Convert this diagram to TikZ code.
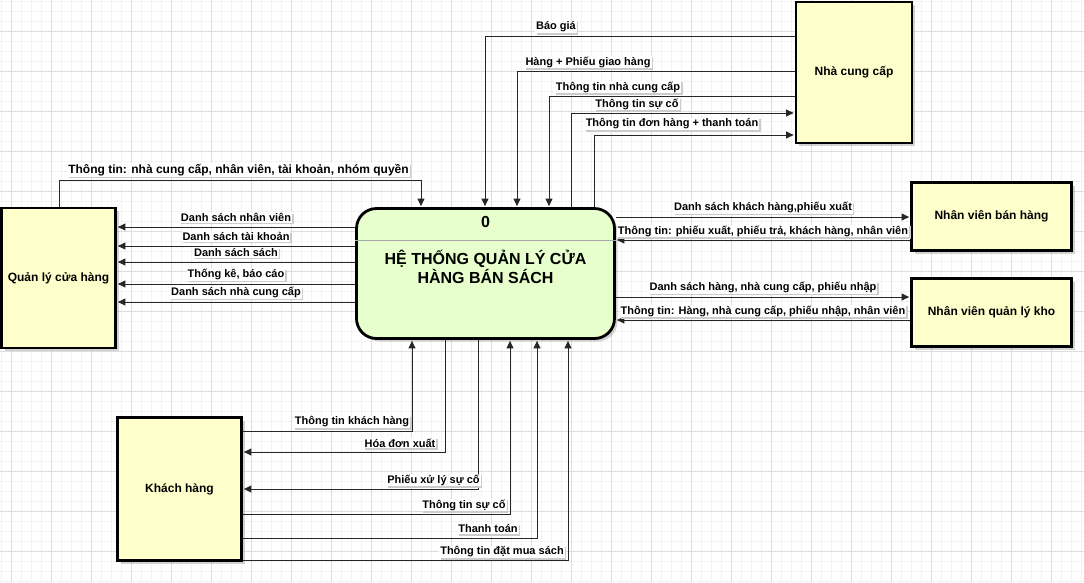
\documentclass[tikz,border=0pt]{standalone}
\usepackage{fontspec}
\setmainfont{Liberation Sans}
\usetikzlibrary{arrows.meta,shadows}

\definecolor{entityfill}{HTML}{FFFFCC}
\definecolor{procfill}{HTML}{E6FFCC}
\definecolor{gridmajor}{HTML}{DDDDDD}
\definecolor{gridminor}{HTML}{F3F3F3}

\tikzset{
	entity/.style={draw=black, line width=2.8pt, fill=entityfill, inner sep=0pt,
		font=\fontsize{12}{14}\selectfont\bfseries,
		drop shadow={shadow xshift=3pt, shadow yshift=-3pt, opacity=0.35}},
	process/.style={draw=black, line width=2.8pt, fill=procfill, rounded corners=20pt,
		drop shadow={shadow xshift=3pt, shadow yshift=-3pt, opacity=0.35}},
	flow/.style={draw=black!85, line width=0.9pt, -{Triangle[length=7.5pt,width=7pt]}, shorten >=1pt},
	lbl/.style={fill=white, inner sep=1pt, font=\fontsize{11}{13}\selectfont\bfseries,
		drop shadow={shadow xshift=1.5pt, shadow yshift=-1.5pt, fill=black!20, opacity=1}}
}

\begin{document}
\begin{tikzpicture}[x=1pt, y=-1pt]
	\useasboundingbox (0,0) rectangle (1084,582);

	% Grid
	\foreach \x in {1,11,...,1081}
		\draw[gridminor, line width=0.8pt] (\x,0) -- (\x,582);
	\foreach \y in {1,11,...,581}
		\draw[gridminor, line width=0.8pt] (0,\y) -- (1084,\y);
	\foreach \x in {11,51,...,1051}
		\draw[gridmajor, line width=0.8pt] (\x,0) -- (\x,582);
	\foreach \y in {31,71,...,551}
		\draw[gridmajor, line width=0.8pt] (0,\y) -- (1084,\y);

	% Process
	\node[process, minimum width=258pt, minimum height=130pt] (proc) at (485.5,273.5) {};
	\draw[gray!70, line width=0.8pt] (proc.west |- 0,240) -- (proc.east |- 0,240);
	\node[font=\fontsize{16}{19}\selectfont\bfseries] (pnum) at (485.5,222) {0};
	\node[font=\fontsize{16}{19}\selectfont\bfseries, align=center] (ptitle) at (485.5,267)
		{HỆ THỐNG QUẢN LÝ CỬA\\HÀNG BÁN SÁCH};

	% Entities
	\node[entity, minimum width=116pt, minimum height=141pt] (ncc) at (854,72.5) {Nhà cung cấp};
	\node[entity, minimum width=114pt, minimum height=140pt] (qly) at (58.5,278) {Quản lý cửa hàng};
	\node[entity, minimum width=160pt, minimum height=68pt] (nvbh) at (991.5,216.5) {Nhân viên bán hàng};
	\node[entity, minimum width=160pt, minimum height=68pt] (nvqlk) at (991.5,312.5) {Nhân viên quản lý kho};
	\node[entity, minimum width=124pt, minimum height=143pt] (kh) at (179.5,489) {Khách hàng};

	% Nha cung cap flows
	\draw[flow] (ncc.west |- 0,36) -| (proc.north -| 485,0);
	\draw[flow] (ncc.west |- 0,71) -| (proc.north -| 517,0);
	\draw[flow] (ncc.west |- 0,96) -| (proc.north -| 549,0);
	\draw[flow] (proc.north -| 571,0) |- (ncc.west |- 0,113);
	\draw[flow] (proc.north -| 594,0) |- (ncc.west |- 0,135);
	\node[lbl] (lbaogia) at (556,27) {Báo giá};
	\node[lbl] (lhang) at (588,62) {Hàng + Phiếu giao hàng};
	\node[lbl] (lttncc) at (618,87) {Thông tin nhà cung cấp};
	\node[lbl] (lttsuco) at (637,104) {Thông tin sự cố};
	\node[lbl] (lttdh) at (672,124) {Thông tin đơn hàng + thanh toán};

	% Quan ly cua hang flows
	\draw[flow] (qly.north -| 59,0) -- (59,180) -| (proc.north -| 421,0);
	\node[lbl, font=\fontsize{12}{14}\selectfont\bfseries] (lttql) at (238.5,170)
		{Thông tin: nhà cung cấp, nhân viên, tài khoản, nhóm quyền};
	\foreach \y/\txt in {227/Danh sách nhân viên, 246/Danh sách tài khoản, 262/Danh sách sách,
			284/{Thống kê, báo cáo}, 302/Danh sách nhà cung cấp}
		\draw[flow] (proc.west |- 0,\y) -- node[lbl, yshift=9.5pt] {\txt} (qly.east |- 0,\y);

	% Nhan vien flows
	\draw[flow] (proc.east |- 0,217) -- node[lbl, yshift=9.5pt] {Danh sách khách hàng,phiếu xuất} (nvbh.west |- 0,217);
	\draw[flow] (nvbh.west |- 0,240) -- node[lbl, yshift=9pt] {Thông tin: phiếu xuất, phiếu trả, khách hàng, nhân viên} (proc.east |- 0,240);
	\draw[flow] (proc.east |- 0,297) -- node[lbl, yshift=9.5pt] {Danh sách hàng, nhà cung cấp, phiếu nhập} (nvqlk.west |- 0,297);
	\draw[flow] (nvqlk.west |- 0,320) -- node[lbl, yshift=9pt] {Thông tin: Hàng, nhà cung cấp, phiếu nhập, nhân viên} (proc.east |- 0,320);

	% Khach hang flows
	\draw[flow] (kh.east |- 0,431) -| (proc.south -| 412,0);
	\draw[flow] (proc.south -| 445,0) |- (kh.east |- 0,452);
	\draw[flow] (proc.south -| 478,0) |- (kh.east |- 0,489);
	\draw[flow] (kh.east |- 0,514) -| (proc.south -| 510,0);
	\draw[flow] (kh.east |- 0,538) -| (proc.south -| 537,0);
	\draw[flow] (kh.east |- 0,560) -| (proc.south -| 568,0);
	\node[lbl] (lttkh) at (352,422) {Thông tin khách hàng};
	\node[lbl] (lhdx) at (400,443) {Hóa đơn xuất};
	\node[lbl] (lpxl) at (433.5,480) {Phiếu xử lý sự cố};
	\node[lbl] (lttsc) at (464,505) {Thông tin sự cố};
	\node[lbl] (lthtoan) at (488,529) {Thanh toán};
	\node[lbl] (lttdms) at (502,552) {Thông tin đặt mua sách};
\end{tikzpicture}
\end{document}
